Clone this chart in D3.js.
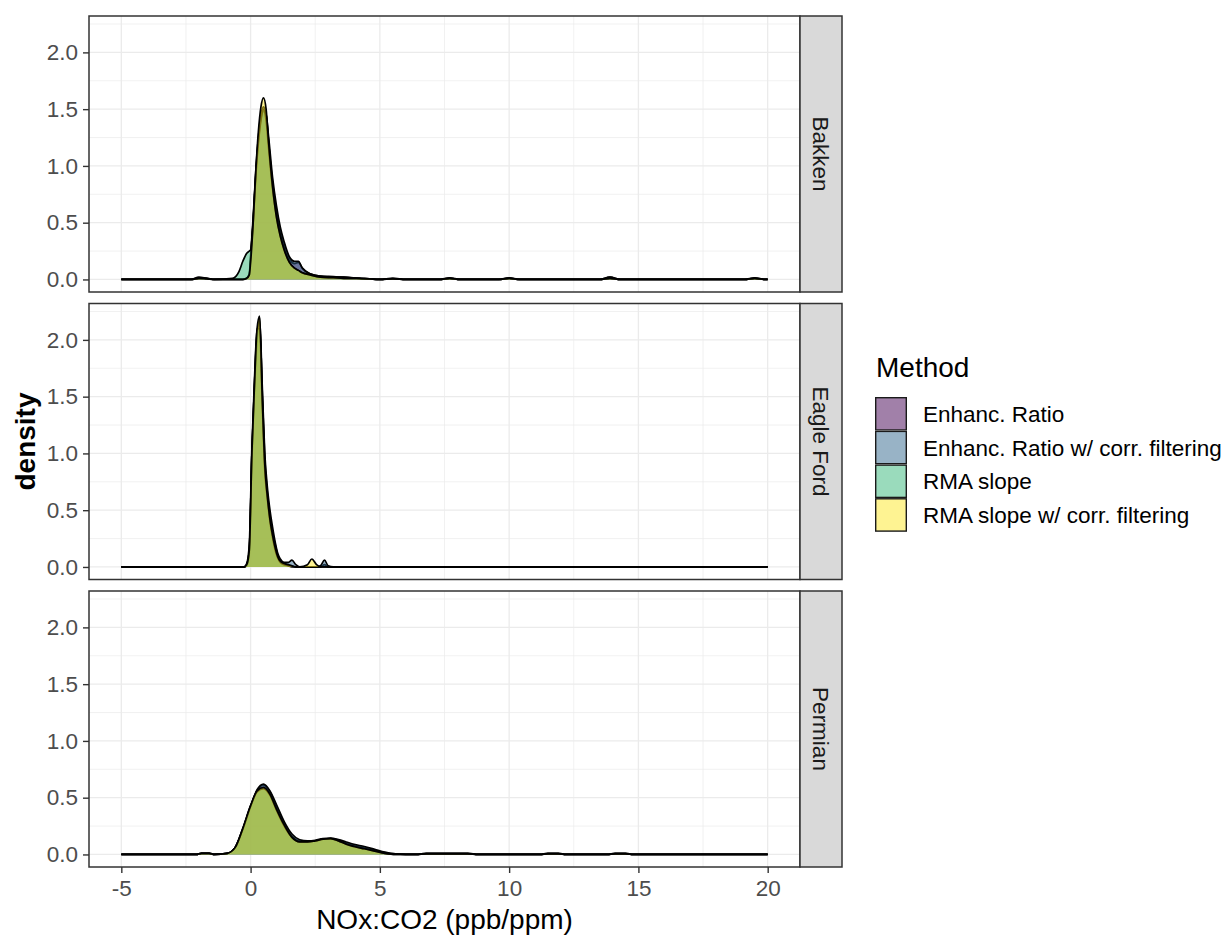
<!DOCTYPE html>
<html>
<head>
<meta charset="utf-8">
<script src="https://cdn.jsdelivr.net/npm/d3@7"></script>
<style>
  html, body { margin: 0; padding: 0; background: #ffffff; }
  svg { display: block; font-family: "Liberation Sans", Arial, sans-serif; }
</style>
</head>
<body>
<svg id="chart" width="1228" height="936"></svg>
<script>
// Facet labels, methods and axis ticks
const basins = ["Bakken", "Eagle Ford", "Permian"];
const methods = ["Enhanc. Ratio", "Enhanc. Ratio w/ corr. filtering", "RMA slope", "RMA slope w/ corr. filtering"];
const methodColors = ["#440154", "#31688E", "#35B779", "#FDE725"];
const xTicks = [-5, 0, 5, 10, 15, 20];
const yTicks = [0, 0.5, 1.0, 1.5, 2.0];

// Bakken density estimates (x grid + one density series per method)
const bakkenX = [-5, -2.3, -2.0, -1.7, -1.4, -0.7, -0.45, -0.3, -0.15, -0.05, 0.0, 0.1, 0.2, 0.3, 0.4, 0.5, 0.6, 0.7, 0.85, 1.0, 1.15, 1.3, 1.5, 1.7, 1.85, 2.0, 2.3, 2.7, 3.2, 3.6, 4.2, 5.0, 5.5, 6.0, 7.3, 7.7, 8.1, 9.6, 10.0, 10.4, 13.5, 13.9, 14.3, 19.1, 19.5, 19.9, 20];
const bakkenEnh     = [0, 0, 0.02, 0.01, 0, 0, 0, 0, 0.01, 0.05, 0.20, 0.55, 0.95, 1.25, 1.45, 1.52, 1.45, 1.20, 0.85, 0.60, 0.42, 0.30, 0.18, 0.14, 0.15, 0.10, 0.05, 0.03, 0.02, 0.02, 0.01, 0, 0.01, 0, 0, 0.015, 0, 0, 0.015, 0, 0, 0.02, 0, 0, 0.015, 0, 0];
const bakkenEnhCorr = [0, 0, 0.015, 0.01, 0, 0, 0, 0, 0.01, 0.04, 0.18, 0.52, 0.92, 1.22, 1.42, 1.48, 1.45, 1.25, 0.90, 0.65, 0.46, 0.33, 0.20, 0.16, 0.16, 0.10, 0.05, 0.03, 0.025, 0.02, 0.01, 0, 0.01, 0, 0, 0.01, 0, 0, 0.012, 0, 0, 0.02, 0, 0, 0.01, 0, 0];
const bakkenRma     = [0, 0, 0.01, 0.01, 0, 0.01, 0.07, 0.16, 0.23, 0.25, 0.26, 0.50, 0.90, 1.20, 1.40, 1.50, 1.40, 1.15, 0.80, 0.55, 0.38, 0.26, 0.15, 0.10, 0.08, 0.06, 0.04, 0.02, 0.015, 0.01, 0.01, 0, 0.005, 0, 0, 0.01, 0, 0, 0.01, 0, 0, 0.01, 0, 0, 0.01, 0, 0];
const bakkenRmaCorr = [0, 0, 0.01, 0.005, 0, 0, 0, 0, 0.01, 0.04, 0.15, 0.50, 0.95, 1.30, 1.52, 1.60, 1.50, 1.20, 0.82, 0.55, 0.38, 0.26, 0.15, 0.10, 0.08, 0.06, 0.04, 0.02, 0.015, 0.01, 0.01, 0, 0.005, 0, 0, 0.01, 0, 0, 0.01, 0, 0, 0.01, 0, 0, 0.01, 0, 0];

// Eagle Ford density estimates
const eagleX = [-5, -0.25, -0.15, -0.05, 0.05, 0.15, 0.25, 0.35, 0.45, 0.55, 0.65, 0.75, 0.85, 0.95, 1.05, 1.15, 1.3, 1.45, 1.6, 1.75, 1.9, 2.2, 2.37, 2.55, 2.7, 2.86, 3.0, 3.2, 20];
const eagleEnh     = [0, 0, 0.02, 0.15, 1.00, 1.60, 2.05, 2.15, 1.55, 0.95, 0.65, 0.45, 0.30, 0.20, 0.10, 0.05, 0.03, 0.02, 0.01, 0, 0, 0, 0, 0, 0, 0.02, 0, 0, 0];
const eagleEnhCorr = [0, 0, 0.01, 0.12, 0.95, 1.55, 2.00, 2.20, 1.60, 1.00, 0.70, 0.50, 0.35, 0.22, 0.12, 0.07, 0.04, 0.04, 0.06, 0.02, 0, 0, 0, 0, 0.01, 0.06, 0.01, 0, 0];
const eagleRma     = [0, 0, 0.03, 0.20, 1.05, 1.65, 2.10, 2.10, 1.45, 0.85, 0.60, 0.40, 0.26, 0.15, 0.08, 0.04, 0.02, 0.01, 0, 0, 0, 0, 0, 0, 0, 0, 0, 0, 0];
const eagleRmaCorr = [0, 0, 0.02, 0.15, 1.00, 1.60, 2.10, 2.21, 1.50, 0.90, 0.62, 0.42, 0.28, 0.17, 0.09, 0.05, 0.03, 0.02, 0.01, 0, 0, 0.02, 0.07, 0.02, 0, 0, 0, 0, 0];

// Permian density estimates
const permianX = [-5, -2.1, -1.9, -1.6, -1.4, -0.9, -0.6, -0.3, 0, 0.25, 0.5, 0.75, 1.0, 1.3, 1.6, 1.9, 2.2, 2.5, 2.8, 3.1, 3.4, 3.7, 4.0, 4.4, 4.8, 5.2, 5.6, 6.4, 6.8, 8.4, 8.8, 11.2, 11.5, 11.9, 12.2, 13.8, 14.1, 14.5, 14.8, 20];
const permianEnh     = [0, 0, 0.01, 0.01, 0, 0.01, 0.06, 0.22, 0.42, 0.56, 0.61, 0.55, 0.42, 0.27, 0.16, 0.12, 0.115, 0.12, 0.135, 0.14, 0.125, 0.10, 0.08, 0.06, 0.035, 0.015, 0.005, 0, 0.01, 0.01, 0, 0, 0.01, 0.01, 0, 0, 0.01, 0.01, 0, 0];
const permianEnhCorr = [0, 0, 0.01, 0.01, 0, 0.01, 0.06, 0.22, 0.42, 0.57, 0.62, 0.56, 0.44, 0.29, 0.18, 0.13, 0.12, 0.125, 0.14, 0.145, 0.13, 0.11, 0.09, 0.07, 0.045, 0.02, 0.005, 0, 0.01, 0.01, 0, 0, 0.01, 0.01, 0, 0, 0.01, 0.01, 0, 0];
const permianRma     = [0, 0, 0.01, 0.01, 0, 0.01, 0.06, 0.23, 0.43, 0.55, 0.58, 0.52, 0.39, 0.25, 0.15, 0.11, 0.11, 0.12, 0.135, 0.14, 0.12, 0.09, 0.07, 0.05, 0.03, 0.01, 0, 0, 0.005, 0.005, 0, 0, 0.005, 0.005, 0, 0, 0.005, 0.005, 0, 0];
const permianRmaCorr = [0, 0, 0.01, 0.01, 0, 0.01, 0.06, 0.23, 0.43, 0.56, 0.59, 0.53, 0.40, 0.26, 0.15, 0.11, 0.11, 0.12, 0.135, 0.14, 0.12, 0.09, 0.07, 0.05, 0.03, 0.01, 0, 0, 0.005, 0.005, 0, 0, 0.005, 0.005, 0, 0, 0.005, 0.005, 0, 0];

const panelData = [
  { x: bakkenX,  series: [bakkenEnh, bakkenEnhCorr, bakkenRma, bakkenRmaCorr] },
  { x: eagleX,   series: [eagleEnh, eagleEnhCorr, eagleRma, eagleRmaCorr] },
  { x: permianX, series: [permianEnh, permianEnhCorr, permianRma, permianRmaCorr] }
];

// Layout
const svg = d3.select("#chart");
const panelLeft = 89, panelRight = 800, stripWidth = 42;
const panelTops = [16, 303.5, 591];
const panelH = 276;

const yMax = d3.max(panelData.flatMap(p => p.series.flat()));
const yPad = yMax * 0.05;
const x = d3.scaleLinear().domain([-6.25, 21.25]).range([panelLeft, panelRight]);

const gridColor = "#EBEBEB";
const borderColor = "#333333";

panelData.forEach((pd, i) => {
  const top = panelTops[i];
  const y = d3.scaleLinear().domain([-yPad, yMax + yPad]).range([top + panelH, top]);
  const g = svg.append("g");

  const clipId = "clip" + i;
  svg.append("clipPath").attr("id", clipId)
    .append("rect").attr("x", panelLeft).attr("y", top)
    .attr("width", panelRight - panelLeft).attr("height", panelH);

  const grid = g.append("g");
  // minor grid
  const xMinor = d3.range(-7.5, 22.6, 5).filter(v => v > -6.25 && v < 21.25);
  const yMinor = [0.25, 0.75, 1.25, 1.75, 2.25];
  grid.selectAll(".xm").data(xMinor).join("line")
    .attr("x1", d => x(d)).attr("x2", d => x(d))
    .attr("y1", top).attr("y2", top + panelH)
    .attr("stroke", gridColor).attr("stroke-width", 0.7);
  grid.selectAll(".ym").data(yMinor.filter(v => y(v) > top)).join("line")
    .attr("x1", panelLeft).attr("x2", panelRight)
    .attr("y1", d => y(d)).attr("y2", d => y(d))
    .attr("stroke", gridColor).attr("stroke-width", 0.7);
  // major grid
  grid.selectAll(".xM").data(xTicks).join("line")
    .attr("x1", d => x(d)).attr("x2", d => x(d))
    .attr("y1", top).attr("y2", top + panelH)
    .attr("stroke", gridColor).attr("stroke-width", 1.3);
  grid.selectAll(".yM").data(yTicks).join("line")
    .attr("x1", panelLeft).attr("x2", panelRight)
    .attr("y1", d => y(d)).attr("y2", d => y(d))
    .attr("stroke", gridColor).attr("stroke-width", 1.3);

  // densities
  const pts = pd.x;
  const area = d3.area()
    .x((d, k) => x(pts[k])).y0(y(0)).y1(d => y(d))
    .curve(d3.curveMonotoneX);
  const line = d3.line()
    .x((d, k) => x(pts[k])).y(d => y(d))
    .curve(d3.curveMonotoneX);
  const marks = g.append("g").attr("clip-path", `url(#${clipId})`);
  pd.series.forEach((s, m) => {
    marks.append("path").attr("d", area(s))
      .attr("fill", methodColors[m]).attr("fill-opacity", 0.5);
    marks.append("path").attr("d", line(s))
      .attr("fill", "none").attr("stroke", "#000").attr("stroke-width", 1.7)
      .attr("stroke-linejoin", "round");
  });

  // panel border
  g.append("rect").attr("x", panelLeft).attr("y", top)
    .attr("width", panelRight - panelLeft).attr("height", panelH)
    .attr("fill", "none").attr("stroke", borderColor).attr("stroke-width", 1.5);

  // strip
  g.append("rect").attr("x", panelRight).attr("y", top)
    .attr("width", stripWidth).attr("height", panelH)
    .attr("fill", "#D9D9D9").attr("stroke", borderColor).attr("stroke-width", 1.5);
  g.append("text")
    .attr("transform", `translate(${panelRight + stripWidth / 2},${top + panelH / 2}) rotate(90)`)
    .attr("text-anchor", "middle").attr("dy", "0.35em")
    .attr("font-size", 22.5).attr("fill", "#1A1A1A")
    .text(basins[i]);

  // y axis
  const yAxis = d3.axisLeft(y).tickValues(yTicks).tickFormat(d3.format(".1f")).tickSize(6).tickPadding(5);
  const ya = g.append("g").attr("transform", `translate(${panelLeft},0)`).call(yAxis);
  ya.select(".domain").remove();
  ya.selectAll(".tick line").attr("stroke", borderColor).attr("stroke-width", 1.4);
  ya.selectAll(".tick text").attr("font-size", 22.5).attr("fill", "#4D4D4D")
    .attr("font-family", "Liberation Sans, Arial, sans-serif");

  // x axis (bottom panel only); plain hyphen for negative labels
  if (i === panelData.length - 1) {
    const xAxis = d3.axisBottom(x).tickValues(xTicks).tickFormat(d => String(d)).tickSize(6).tickPadding(7);
    const xa = g.append("g").attr("transform", `translate(0,${top + panelH})`).call(xAxis);
    xa.select(".domain").remove();
    xa.selectAll(".tick line").attr("stroke", borderColor).attr("stroke-width", 1.4);
    xa.selectAll(".tick text").attr("font-size", 22.5).attr("fill", "#4D4D4D")
      .attr("font-family", "Liberation Sans, Arial, sans-serif");
  }
});

// axis titles
svg.append("text")
  .attr("x", (panelLeft + panelRight) / 2).attr("y", 929)
  .attr("text-anchor", "middle").attr("font-size", 28).attr("fill", "#000")
  .text("NOx:CO2 (ppb/ppm)");
svg.append("text")
  .attr("transform", `translate(35,${(panelTops[0] + panelTops[2] + panelH) / 2}) rotate(-90)`)
  .attr("text-anchor", "middle").attr("font-size", 28).attr("font-weight", "bold").attr("fill", "#000")
  .text("density");

// legend
const legend = svg.append("g").attr("transform", "translate(875,0)");
legend.append("text").attr("x", 1).attr("y", 377)
  .attr("font-size", 28).attr("fill", "#000").text("Method");
const keyH = 33.7, keyW = 32, keyTop = 397;
methods.forEach((m, k) => {
  const ky = keyTop + k * keyH;
  legend.append("rect").attr("x", 0).attr("y", ky).attr("width", keyW).attr("height", keyH)
    .attr("fill", "#fff");
  legend.append("rect").attr("x", 0.7).attr("y", ky + 0.7).attr("width", keyW - 1.4).attr("height", keyH - 1.4)
    .attr("fill", methodColors[k]).attr("fill-opacity", 0.5)
    .attr("stroke", "#1a1a1a").attr("stroke-width", 1.4);
  legend.append("text").attr("x", 48).attr("y", ky + keyH / 2).attr("dy", "0.36em")
    .attr("font-size", 22.5).attr("fill", "#000").text(m);
});
</script>
</body>
</html>
